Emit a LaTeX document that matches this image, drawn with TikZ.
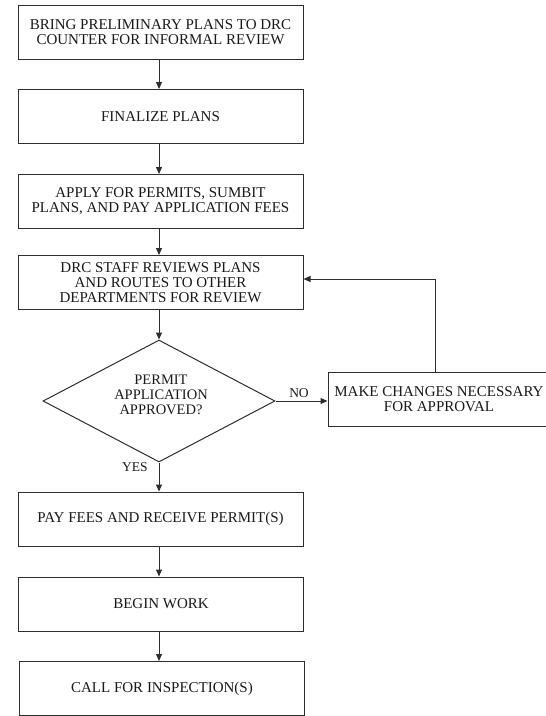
\documentclass[tikz,border=0pt]{standalone}
\usepackage{fontspec}
\setmainfont{Liberation Serif}
\usetikzlibrary{arrows.meta,shapes.geometric}
\definecolor{ln}{HTML}{2E2E2E}
\definecolor{tx}{HTML}{1A1A1A}
\begin{document}
\begin{tikzpicture}[x=1pt,y=-1pt,
  box/.style={draw=ln,line width=1pt,rectangle,minimum width=285pt,minimum height=54pt,
    inner sep=0pt,align=center,text=tx,font=\fontsize{15}{15}\selectfont},
  arr/.style={draw=ln,line width=1pt,-{Triangle[length=7pt,width=6pt]}},
  lbl/.style={text=tx,font=\fontsize{13.5}{14}\selectfont,inner sep=0pt}]
\clip (0,0) rectangle (546,716);
\fill[white] (0,0) rectangle (546,716);
\node[box] (b1) at (160.5,32) {BRING PRELIMINARY PLANS TO DRC\\COUNTER FOR INFORMAL REVIEW};
\node[box] (b2) at (160.5,116.5) {FINALIZE PLANS};
\node[box] (b3) at (160.5,201.5) {APPLY FOR PERMITS, SUMBIT\\PLANS, AND PAY APPLICATION FEES};
\node[box] (b4) at (160.5,282.5) {DRC STAFF REVIEWS PLANS\\AND ROUTES TO OTHER\\DEPARTMENTS FOR REVIEW};
\node[draw=ln,line width=1pt,diamond,minimum width=232pt,minimum height=122pt,inner sep=0pt] (dec) at (159,401) {};
\node[text=tx,align=center,font=\fontsize{14.5}{15}\selectfont,inner sep=0pt] (dect) at (161,395) {PERMIT\\APPLICATION\\APPROVED?};
\node[box,minimum width=222pt] (chg) at (439,399) {MAKE CHANGES NECESSARY\\FOR APPROVAL};
\node[box] (b7) at (160.5,519) {PAY FEES AND RECEIVE PERMIT(S)};
\node[box] (b8) at (161,604) {BEGIN WORK};
\node[box] (b9) at (162,688.5) {CALL FOR INSPECTION(S)};
\node[lbl] (no) at (299,393) {NO};
\node[lbl] (yes) at (135,467) {YES};
\coordinate (fb) at (435,279);
\draw[arr] (b1.south -| dec.north) -- (b2.north -| dec.north);
\draw[arr] (b2.south -| dec.north) -- (b3.north -| dec.north);
\draw[arr] (b3.south -| dec.north) -- (b4.north -| dec.north);
\draw[arr] (b4.south -| dec.north) -- (dec.north);
\draw[arr] (dec.east) -- (chg.west |- dec.east);
\draw[arr] (chg.north -| fb) |- (b4.east |- fb);
\draw[arr] (dec.south) -- (b7.north -| dec.south);
\draw[arr] (b7.south -| dec.south) -- (b8.north -| dec.south);
\draw[arr] (b8.south -| dec.south) -- (b9.north -| dec.south);
\end{tikzpicture}
\end{document}
